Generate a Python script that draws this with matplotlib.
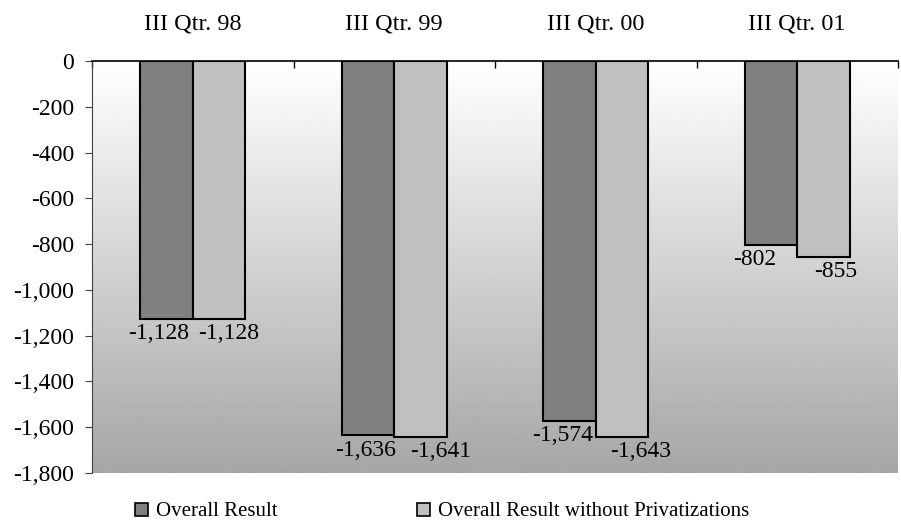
import matplotlib.pyplot as plt
import numpy as np
from matplotlib.ticker import FuncFormatter

categories = ['III Qtr. 98', 'III Qtr. 99', 'III Qtr. 00', 'III Qtr. 01']
overall = [-1128, -1636, -1574, -802]
without_priv = [-1128, -1641, -1643, -855]
series_names = ['Overall Result', 'Overall Result without Privatizations']

plt.rcParams['font.family'] = ['Liberation Serif', 'DejaVu Serif']

fig = plt.figure(figsize=(9.01, 5.29), dpi=100)
ax = fig.add_axes([92 / 901, 1 - 473 / 529, (898 - 92) / 901, (473 - 61) / 529])

# gradient background (white at top to gray at bottom)
grad = np.linspace(1.0, 0.65, 256).reshape(-1, 1)
ax.imshow(grad, cmap='gray', vmin=0, vmax=1, aspect='auto',
          extent=[-0.5, 3.5, -1800, 0], zorder=0)

x = np.arange(len(categories))
w = 0.26
b1 = ax.bar(x - w / 2, overall, w, color='#808080', edgecolor='black', linewidth=1.5,
            label=series_names[0], zorder=2)
b2 = ax.bar(x + w / 2, without_priv, w, color='#c0c0c0', edgecolor='black', linewidth=1.5,
            label=series_names[1], zorder=2)

fmt = lambda v: '{:,.0f}'.format(v)
# data labels below bar ends, nudged sideways like the original to avoid overlap
off1 = [-0.04, -0.01, -0.035, -0.08]
off2 = [0.05, 0.10, 0.095, 0.06]
for i in range(len(categories)):
    for vals, offs, sgn in ((overall, off1, -1), (without_priv, off2, 1)):
        v = vals[i]
        ax.annotate(fmt(v), (x[i] + sgn * w / 2 + offs[i], v), xytext=(0, -3),
                    textcoords='offset points', ha='center', va='top', fontsize=17, zorder=3)

ax.set_xlim(-0.5, 3.5)
ax.set_ylim(-1800, 0)
ax.set_yticks(np.arange(-1800, 1, 200))
ax.yaxis.set_major_formatter(FuncFormatter(lambda v, p: fmt(v)))
ax.tick_params(axis='y', labelsize=17, length=5, color='#404040', pad=8)

ax.xaxis.tick_top()
ax.set_xticks(x)
ax.set_xticklabels(categories, fontsize=17.5)
ax.set_xticks(np.arange(-0.5, 4, 1), minor=True)
ax.tick_params(axis='x', which='major', length=0, pad=19)
ax.tick_params(axis='x', which='minor', direction='in', length=5, width=1)

for s in ('right', 'bottom'):
    ax.spines[s].set_visible(False)
ax.spines['top'].set_linewidth(1.2)
ax.spines['left'].set_color('#404040')

leg = fig.legend(handles=[b1, b2], loc='center left', bbox_to_anchor=(135 / 901, 1 - 512 / 529),
                 ncol=2, frameon=False, fontsize=15, handlelength=0.6, handleheight=0.6,
                 handletextpad=0.4, columnspacing=6.7, borderpad=0, borderaxespad=0)
for h in leg.legend_handles:
    h.set_linewidth(1.2)

plt.savefig('out.png', dpi=100)
